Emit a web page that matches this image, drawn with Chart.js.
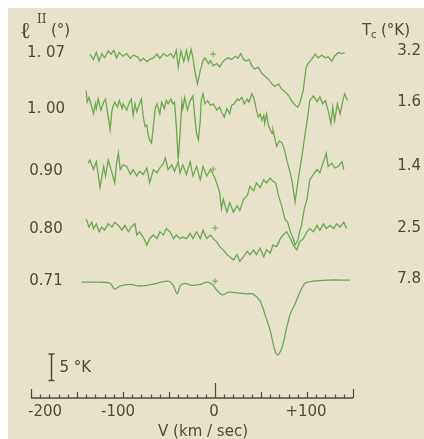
<!DOCTYPE html>
<html>
<head>
<meta charset="utf-8">
<script src="https://cdn.jsdelivr.net/npm/chart.js@4.4.1/dist/chart.umd.min.js"></script>
<style>
  html, body { margin: 0; padding: 0; background: #fff; }
  #paper { position: absolute; left: 8px; top: 8px; width: 416px; height: 431px; background: #e9e2cb; }
  #wrap { position: absolute; left: 0; top: 0; width: 424px; height: 439px; }
</style>
</head>
<body>
<div id="paper"></div>
<div id="wrap"><canvas id="chart" width="424" height="439"></canvas></div>
<script>
// velocities (km/sec) and antenna temperature change (°K)
const vel107 = [-136,-132,-129,-126,-123,-120,-116,-113,-110,-107,-104,-100,-96,-92,-89,-84,-81,-78,-74,-71,
  -67,-63,-60,-56,-52,-48,-45,-42,-40,-37,-34,-31,-29,-26,-24,-22,-19,-16,-13,-11,
  -7,-5,-2,2,5,8,11,14,18,22,25,28,31,34,37,40,43,47,51,54,
  58,62,65,69,72,76,80,83,87,90,92,96,99,101,105,109,112,116,120,123,127,130,134,138,141];
const ta107 = [0.6,-0.4,0.9,-0.7,0.7,-0.1,1.2,0.6,1.3,-0.1,0.9,0.2,0.7,-0.2,0.4,0.1,-0.7,-0.2,-0.8,-0.4,
  -0.1,0.6,-0.2,0.7,0.2,0.7,-0.1,1.3,-1.9,1.2,-0.8,1.3,-0.6,1.5,-0.1,-2.5,-5.0,-2.5,-0.6,-0.1,
  -1.2,-0.6,-1.6,-1.2,-1.8,-1.0,-0.4,-0.1,-0.4,0.2,-0.2,0.7,-0.4,-0.7,-0.4,-1.6,-2.2,-1.9,-3.0,-3.5,
  -4.1,-5.0,-5.5,-5.0,-5.9,-6.5,-7.2,-8.1,-9.0,-9.4,-8.7,-6.2,-1.9,-1.2,-0.4,0.6,-0.1,0.4,-0.1,0.1,-0.7,0.2,0.9,0.7,0.9];

const vel100 = [-140,-139,-137,-134,-132,-130,-129,-127,-124,-121,-119,-116,-114,-112,-111,-109,-106,-104,-101,-100,
  -96,-93,-91,-89,-87,-85,-82,-80,-78,-76,-74,-73,-71,-69,-67,-65,-63,-60,-58,-55,
  -53,-51,-48,-46,-44,-42,-40,-38,-36,-35,-33,-30,-27,-24,-22,-20,-18,-16,-15,-13,
  -11,-8,-5,-2,2,5,7,10,13,16,18,21,24,26,29,32,35,37,40,42,
  44,45,47,49,51,53,54,56,58,60,62,63,65,67,70,73,76,78,81,84,
  87,90,95,98,101,103,107,111,114,117,120,123,126,128,130,133,136,139,141,144];
const ta100 = [2.5,0.3,1.2,-0.6,-1.9,0,-0.9,0.9,-1.2,0.3,0.9,-2.5,-4.9,-1.2,-0.6,0.3,-0.6,0.6,-0.9,0,
  -1.2,0.3,0.9,-2.2,0,-1.5,0,0.9,-2.5,-4.3,-4.0,-5.6,-6.8,-7.4,-4.3,-0.9,0,-1.9,0.3,-0.9,
  0.6,0,0.9,0,0.3,-4.3,-10.5,-5.6,0.3,-0.9,1.2,-1.2,0.6,1.5,-2.5,-5.6,-6.8,-3.1,0.6,1.9,
  0,0.6,-0.3,0,-1.2,-0.6,-1.5,-2.5,-0.9,-1.9,-0.3,0,0.9,0.6,1.2,0,0.9,0.3,1.9,1.2,
  -0.3,-1.2,-2.5,-1.9,-3.1,-2.2,-3.7,-1.9,-4.0,-4.9,-5.6,-4.9,-6.5,-8.0,-7.0,-7.4,-9.0,-10.6,-12.5,-14.8,
  -18.5,-14.8,-9.3,-5.6,-2.2,0.6,1.5,0.4,1.3,0,0.6,-1.3,-3.7,-0.6,-3.2,0,-1.9,0.6,1.9,0.6];

const vel090 = [-138,-136,-132,-129,-125,-121,-119,-116,-112,-109,-107,-105,-103,-100,-96,-92,-89,-85,-82,-78,
  -74,-71,-67,-63,-60,-56,-54,-51,-47,-44,-40,-38,-35,-31,-27,-24,-20,-16,-13,-9,
  -5,-3,0,4,5,7,9,13,16,20,24,27,31,35,38,42,45,49,53,56,
  60,63,66,69,73,76,79,82,85,87,90,92,94,97,100,103,107,111,114,118,121,123,127,130,134,138,140];
const ta090 = [0.9,1.5,-0.3,1.2,-3.7,0.3,-1.5,1.5,-0.9,-2.8,0.9,2.8,-0.3,0.6,0.3,-1.2,-0.3,-1.5,-0.6,-1.2,
  0,-2.8,-0.3,-0.9,0,0.9,1.9,-0.3,0.6,-0.6,1.2,-0.9,0.6,-1.2,1.2,-1.5,0.3,-2.2,0.3,-1.5,
  -0.3,-0.9,-1.9,-4.0,-4.6,-7.7,-5.9,-8.3,-6.5,-8.3,-7.1,-8.0,-5.9,-5.2,-3.4,-4.3,-2.8,-3.7,-2.2,-2.8,
  -1.9,-2.5,-2.8,-5.2,-7.4,-9.6,-10.2,-12.0,-13.3,-14.5,-13.6,-12.0,-10.8,-7.7,-5.9,-2.2,-1.2,-0.3,-0.9,1.2,
  2.8,0.3,0.9,0,0.3,1.2,-0.3];

const vel080 = [-140,-137,-134,-132,-129,-126,-123,-120,-116,-112,-109,-105,-101,-98,-94,-91,-87,-85,-82,-78,
  -74,-71,-67,-63,-60,-56,-53,-49,-45,-42,-38,-35,-31,-27,-24,-20,-16,-13,-9,-5,
  -2,2,5,9,13,16,20,24,27,31,35,38,42,45,49,53,56,60,63,67,
  71,74,78,82,85,89,92,96,100,103,107,111,114,118,121,125,129,132,136,140,143];
const ta080 = [1.5,0,0.9,-0.3,0.6,-0.9,0,-0.6,0.6,0,0.9,0.3,-0.6,0.3,-0.9,0,0.6,-1.5,-0.9,-1.9,
  -3.4,-2.2,-1.5,-2.2,-0.9,-1.5,-0.3,-0.9,-2.2,-1.5,-2.2,-1.9,-2.2,-1.2,-2.2,-0.9,-2.2,-0.6,-2.2,-1.5,
  -2.2,-2.8,-3.7,-4.3,-5.2,-5.6,-6.2,-5.2,-6.5,-5.6,-4.6,-5.2,-4.3,-5.2,-4.0,-5.6,-4.3,-4.9,-3.4,-3.7,
  -2.2,-1.5,-0.9,-2.2,-3.4,-4.3,-2.8,-2.2,-0.9,-0.3,-0.9,0.3,-0.6,0.6,-0.3,0.3,-0.3,0.6,0,0.9,-0.3];

const vel071 = [-145,-125,-114,-109,-103,-92,-84,-74,-63,-51,-46,-41,-38,-33,-25,-16,-9,-3,2,8,
  14,24,35,41,49,54,60,65,68,73,78,82,87,92,98,107,122,147];
const ta071 = [0,0,-0.2,-1.3,-0.7,-0.4,-0.7,-0.6,-0.2,0.2,-0.4,-2.2,-0.7,-0.2,-0.6,-0.4,0,-0.4,-1.5,-2.4,
  -1.9,-2.0,-2.2,-2.2,-3.5,-5.9,-9.1,-12.8,-13.7,-12.2,-8.5,-5.9,-4.1,-2.0,-0.2,0.2,0.4,0.4];

// galactic longitude of each scan and its continuum temperature
const longitudes = ["1. 07", "1. 00", "0.90", "0.80", "0.71"];
const contTemps = ["3.2", "1.6", "1.4", "2.5", "7.8"];

// zero-velocity marks on the scans (trace index, km/sec, °K)
const crossTrace = [0, 2, 3, 4];
const crossVel = [-2, -2, 0, 0];
const crossTa = [0.6, -0.2, -0.2, 0.2];

const tickValues = [-200, -100, 0, 100];
const tickLabels = ["-200", "-100", "0", "+100"];

// vertical stacking of the scans (°K below the top of the frame)
const rowOffset = [9.85, 18.6, 30.7, 41.8, 52.2];

const green = "#6aa94e";
const ink = "#4a4a42";
const font = '"DejaVu Sans", sans-serif';

const traces = [
  [vel107, ta107], [vel100, ta100], [vel090, ta090], [vel080, ta080], [vel071, ta071]
];

const datasets = traces.map((tr, i) => ({
  data: tr[0].map((v, k) => ({ x: v, y: tr[1][k] - rowOffset[i] })),
  borderColor: green,
  borderWidth: 1.3,
  pointRadius: 0,
  tension: i === 4 ? 0.3 : 0,
  fill: false
}));

datasets.push({
  data: crossTrace.map((t, k) => ({ x: crossVel[k], y: crossTa[k] - rowOffset[t] })),
  showLine: false,
  pointStyle: "cross",
  pointRadius: 3,
  borderColor: green,
  borderWidth: 1
});

const paperAxis = {
  id: "paperAxis",
  afterDraw(chart) {
    const ctx = chart.ctx;
    const xs = chart.scales.x;
    const ys = chart.scales.y;
    const base = chart.chartArea.bottom;
    ctx.save();
    ctx.strokeStyle = ink;
    ctx.fillStyle = ink;

    // velocity axis, ticks pointing up
    ctx.lineWidth = 1.5;
    ctx.beginPath();
    ctx.moveTo(xs.getPixelForValue(-200), base);
    ctx.lineTo(xs.getPixelForValue(150), base);
    ctx.stroke();
    ctx.lineWidth = 1.2;
    for (let v = -200; v <= 150; v += 10) {
      let len = 3.5;
      if (v % 50 === 0) len = 6;
      if (v === -200 || v === 150) len = 9;
      if (v === 0) len = 15;
      const px = Math.round(xs.getPixelForValue(v)) + 0.5;
      ctx.beginPath();
      ctx.moveTo(px, base);
      ctx.lineTo(px, base - len);
      ctx.stroke();
    }

    ctx.font = "15px " + font;
    ctx.textBaseline = "middle";
    tickValues.forEach((v, i) => {
      ctx.textAlign = v === -200 ? "left" : "center";
      const px = xs.getPixelForValue(v) + (v === -200 ? -3 : (v === -100 ? -5 : -1));
      ctx.fillText(tickLabels[i], px, base + 14);
    });
    ctx.textAlign = "center";
    ctx.fillText("V (km / sec)", xs.getPixelForValue(-13), base + 34);

    // row labels
    const leftY = [53, 109, 171, 229, 281];
    const rightY = [51, 102, 166, 228, 279];
    longitudes.forEach((t, i) => {
      ctx.textAlign = "center";
      ctx.fillText(t, 46, leftY[i]);
    });
    contTemps.forEach((t, i) => {
      ctx.textAlign = "right";
      ctx.fillText(t, 421, rightY[i]);
    });

    // column headers
    ctx.textBaseline = "alphabetic";
    ctx.textAlign = "left";
    ctx.font = 'bold 23px "DejaVu Serif", serif';
    ctx.fillText("ℓ", 21, 38);
    ctx.font = '12px "DejaVu Serif", serif';
    ctx.fillText("II", 37, 23);
    ctx.font = "15px " + font;
    ctx.fillText("(°)", 51, 35);
    ctx.fillText("T", 362, 35);
    ctx.font = "10px " + font;
    ctx.fillText("c", 371, 38);
    ctx.font = "15px " + font;
    ctx.fillText("(°K)", 381, 35);

    // 5 °K scale bar
    const bx = Math.round(xs.getPixelForValue(-178)) + 0.5;
    const y1 = ys.getPixelForValue(-70.7);
    const y2 = ys.getPixelForValue(-65.7);
    ctx.lineWidth = 1.5;
    ctx.beginPath();
    ctx.moveTo(bx, y1); ctx.lineTo(bx, y2);
    ctx.moveTo(bx - 3, y1); ctx.lineTo(bx + 3, y1);
    ctx.moveTo(bx - 3, y2); ctx.lineTo(bx + 3, y2);
    ctx.stroke();
    ctx.textBaseline = "middle";
    ctx.fillText("5 °K", bx + 8, (y1 + y2) / 2 + 1);
    ctx.restore();
  }
};

new Chart(document.getElementById("chart"), {
  type: "line",
  data: { datasets: datasets },
  options: {
    responsive: false,
    animation: false,
    devicePixelRatio: 1,
    layout: { padding: { left: 31, right: 71, top: 0, bottom: 41 } },
    scales: {
      x: { type: "linear", min: -200, max: 150, display: false },
      y: { type: "linear", min: -74, max: 0, display: false }
    },
    plugins: { legend: { display: false }, tooltip: { enabled: false } }
  },
  plugins: [paperAxis]
});
</script>
</body>
</html>
